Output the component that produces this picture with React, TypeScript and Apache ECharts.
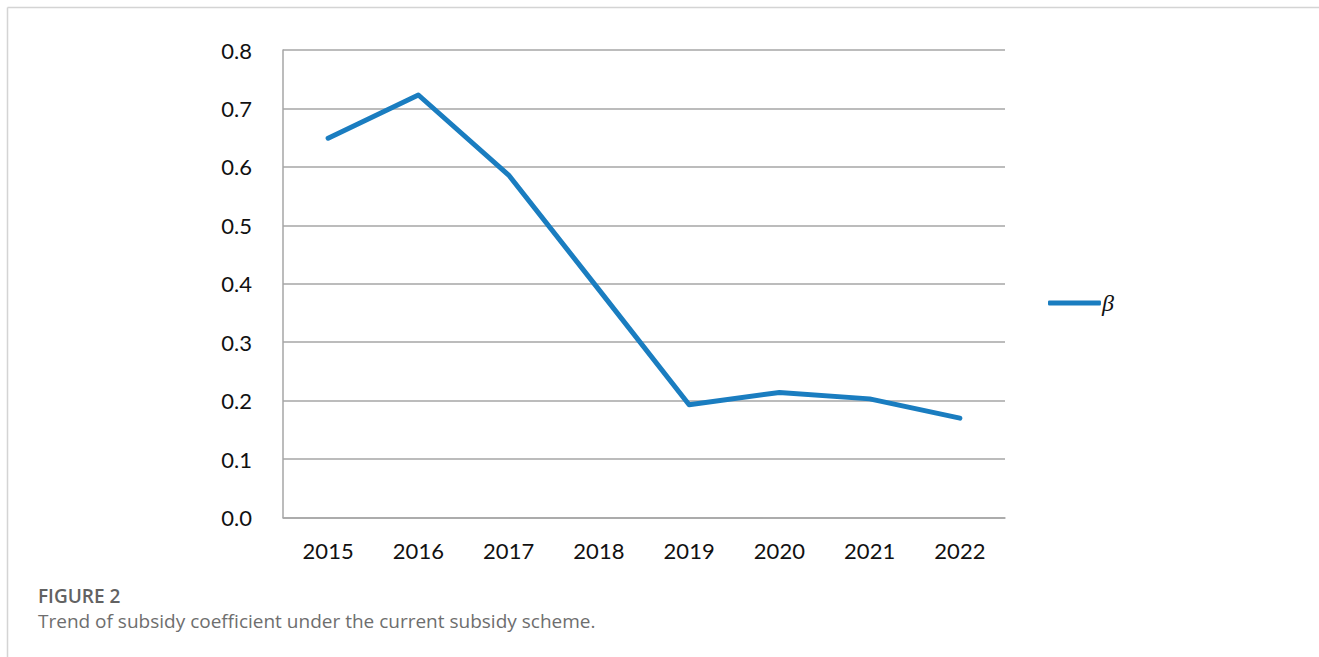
import React, { useEffect, useRef } from "react";
import * as echarts from "echarts";

const years = ["2015", "2016", "2017", "2018", "2019", "2020", "2021", "2022"];
const betaValues = [0.649, 0.723, 0.586, 0.39, 0.193, 0.214, 0.203, 0.17];
const seriesName = "β";
const captionTitle = "FIGURE 2";
const captionText = "Trend of subsidy coefficient under the current subsidy scheme.";

export default function App() {
  const ref = useRef<HTMLDivElement>(null);
  useEffect(() => {
    document.body.style.margin = "0";
    const chart = echarts.init(ref.current!, null, { renderer: "svg" });
    const axisFont = "Lato, 'Open Sans', sans-serif";
    chart.setOption({
      animation: false,
      backgroundColor: "#ffffff",
      grid: { left: 283, right: 314, top: 50, bottom: 139.5, containLabel: false },
      xAxis: {
        type: "category",
        data: years,
        boundaryGap: true,
        axisLine: { show: true, lineStyle: { color: "#a6a6a6", width: 1.5 } },
        axisTick: { show: false },
        axisLabel: { color: "#111", fontSize: 22, fontFamily: axisFont, margin: 22 },
      },
      yAxis: {
        type: "value",
        min: 0,
        max: 0.8,
        interval: 0.1,
        axisLine: { show: true, lineStyle: { color: "#a6a6a6", width: 1.5 } },
        axisTick: { show: false },
        splitLine: { show: true, lineStyle: { color: "#a6a6a6", width: 1.5 } },
        axisLabel: {
          color: "#111",
          fontSize: 22,
          fontFamily: axisFont,
          margin: 31,
          formatter: (v: number) => v.toFixed(1),
        },
      },
      legend: {
        show: true,
        orient: "vertical",
        left: 1043,
        top: 286,
        itemWidth: 53,
        itemHeight: 5,
        itemGap: 4,
        icon: "roundRect",
        data: [{ name: seriesName, icon: "roundRect" }],
        textStyle: {
          fontFamily: "'Liberation Serif', 'DejaVu Serif', serif",
          fontStyle: "italic",
          fontSize: 24,
          color: "#111",
          padding: [0, 0, 0, -4],
        },
      },
      series: [
        {
          name: seriesName,
          type: "line",
          data: betaValues,
          symbol: "none",
          showSymbol: false,
          lineStyle: { color: "#1a7dc0", width: 5, cap: "round", join: "round" },
          itemStyle: { color: "#1a7dc0" },
        },
      ],
      graphic: [
        {
          type: "line",
          shape: { x1: 7.5, y1: 7.5, x2: 1319, y2: 7.5 },
          style: { stroke: "#d4d4d4", lineWidth: 1.5 },
        },
        {
          type: "line",
          shape: { x1: 7.5, y1: 7.5, x2: 7.5, y2: 657 },
          style: { stroke: "#d4d4d4", lineWidth: 1.5 },
        },
        {
          type: "text",
          left: 38,
          top: 586,
          style: {
            text: captionTitle,
            font: "600 19px 'Open Sans', 'Noto Sans', sans-serif",
            fill: "#626262",
          },
        },
        {
          type: "text",
          left: 38,
          top: 611,
          style: {
            text: captionText,
            font: "19px 'Open Sans', 'Noto Sans', sans-serif",
            fill: "#6e6e6e",
          },
        },
      ],
    });
    return () => chart.dispose();
  }, []);
  return <div ref={ref} style={{ width: 1319, height: 657 }} />;
}
